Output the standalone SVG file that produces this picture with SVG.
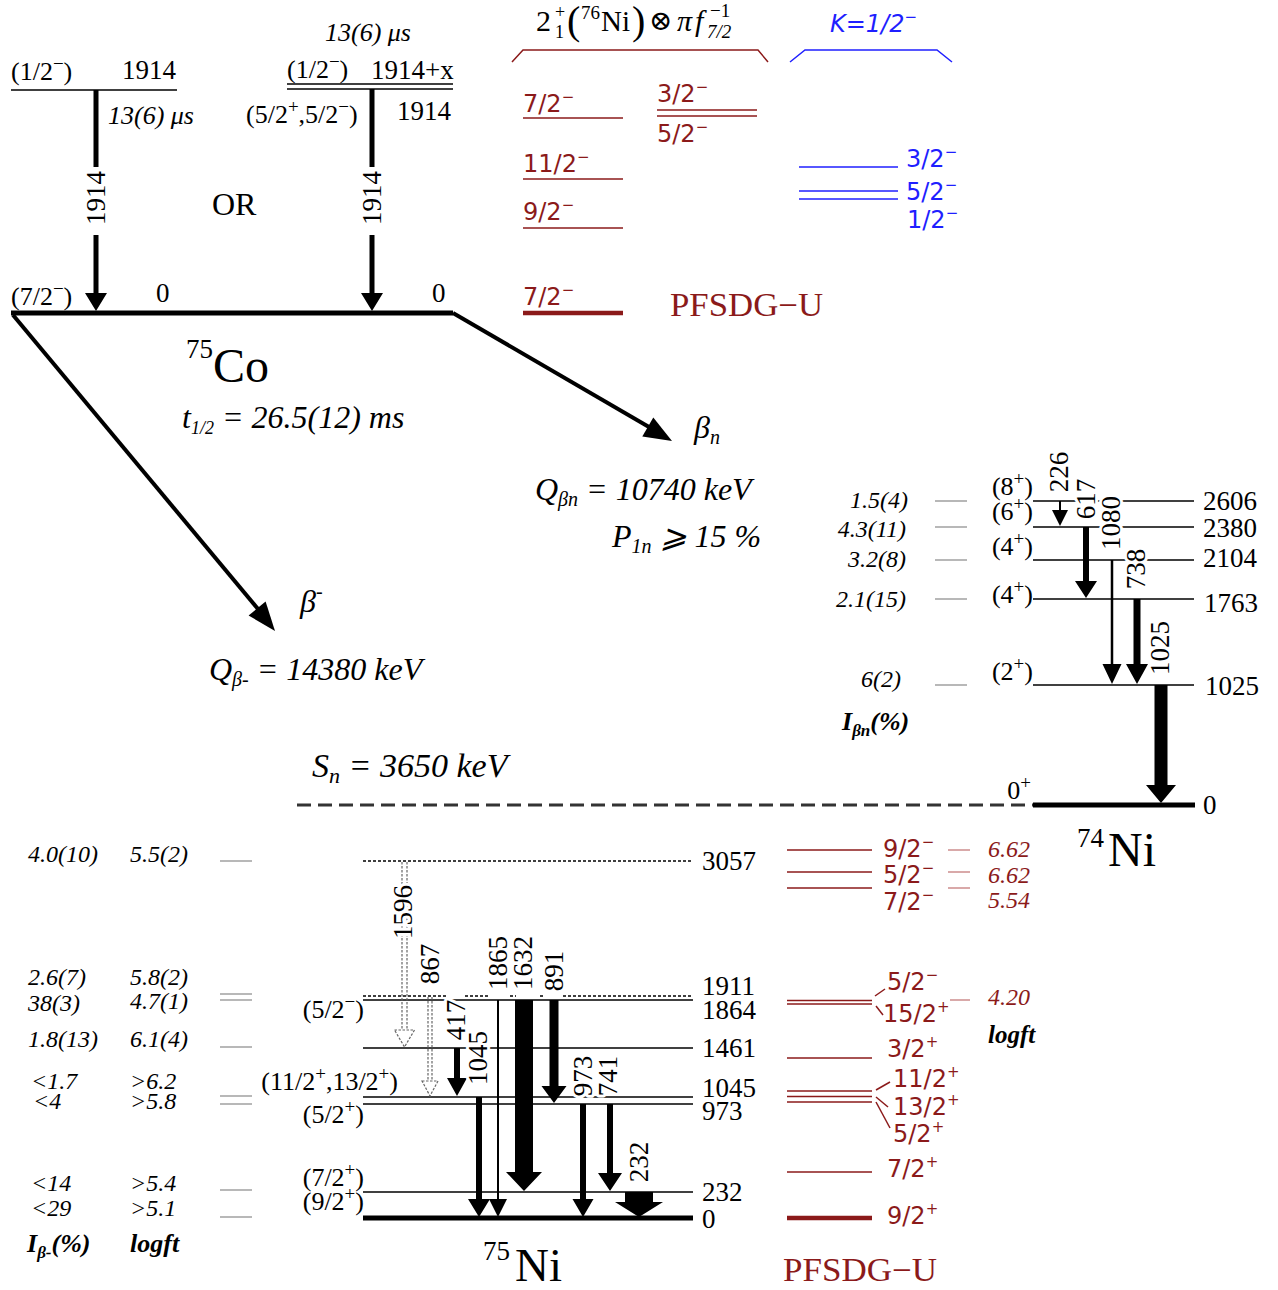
<svg xmlns="http://www.w3.org/2000/svg" width="1278" height="1290" viewBox="0 0 1278 1290">
<style>
text{font-family:"Liberation Serif","DejaVu Serif",serif;fill:#000}
.it{font-style:italic}
.bi{font-style:italic;font-weight:bold}
.e{font-size:27px}
.sp{font-size:26px}
.gl{font-size:27px}
.u{font-size:19px}
.halo{paint-order:stroke;stroke:#fff;stroke-width:6px;stroke-linejoin:round}
.lv{stroke:#000;stroke-width:1.6;fill:none}
.gr{stroke:#888;stroke-width:1.2}
.rs{font-family:"DejaVu Sans",sans-serif;font-size:24px;fill:#8b1a1a}
.ru{font-size:15px}
.bs{font-family:"DejaVu Sans",sans-serif;font-size:24px;fill:#1f1fff}
.rl{stroke:#8b1a1a;stroke-width:1.5;fill:none}
.rlt{stroke:#8b1a1a;stroke-width:4.5;fill:none}
.rg{stroke:#c07070;stroke-width:1.2}
.bl{stroke:#1f1fff;stroke-width:1.5;fill:none}
.ri{font-style:italic;font-size:24px;fill:#8b1a1a}
.ar{fill:#000}
.hol{fill:#fff;stroke:#666;stroke-width:1.2;stroke-dasharray:2.5 1.5}
.hs{stroke:#666;stroke-width:1.2;stroke-dasharray:2.5 1.5}
.dot{stroke:#000;stroke-width:1.5;stroke-dasharray:3 2;fill:none}
.q{font-style:italic;font-size:32px}
.pf{font-size:33px;fill:#8b1a1a}
</style>

<!-- 75Co -->
<g id="co75-1914a">
 <line class="lv" x1="11" y1="90" x2="177" y2="90"/>
 <text class="sp" x="11" y="80">(1/2<tspan class="u" dy="-10">−</tspan><tspan dy="10">)</tspan></text>
 <text class="e" x="122" y="79">1914</text>
 <text class="it" font-size="26" x="108" y="124">13(6) μs</text>
</g>
<g id="co75-1914x">
 <line class="lv" x1="287" y1="84" x2="453" y2="84"/>
 <line class="lv" x1="287" y1="89" x2="453" y2="89"/>
 <text class="it" font-size="26" x="325" y="41">13(6) μs</text>
 <text class="sp" x="287" y="78">(1/2<tspan class="u" dy="-10">−</tspan><tspan dy="10">)</tspan></text>
 <text class="e" x="371" y="79">1914+x</text>
 <text class="sp" x="246" y="123">(5/2<tspan class="u" dy="-10">+</tspan><tspan dy="10">,5/2</tspan><tspan class="u" dy="-10">−</tspan><tspan dy="10">)</tspan></text>
 <text class="e" x="397" y="120">1914</text>
</g>
<g id="co75-or">
 <text font-size="32" x="212" y="215">OR</text>
</g>
<g id="co75-gs">
 <line x1="11" y1="313" x2="453" y2="313" stroke="#000" stroke-width="5"/>
 <text class="sp" x="11" y="305">(7/2<tspan class="u" dy="-10">−</tspan><tspan dy="10">)</tspan></text>
 <text class="e" x="156" y="302">0</text>
 <text class="e" x="432" y="302">0</text>
 <text font-size="27" x="186" y="358">75</text>
 <text font-size="48" x="213" y="382">Co</text>
 <text class="q" x="182" y="428">t<tspan font-size="18" dy="6">1/2</tspan><tspan dy="-6"> = 26.5(12) ms</tspan></text>
</g>
<g id="decay-labels">
 <text class="q" x="694" y="438">β<tspan font-size="20" dy="6">n</tspan></text>
 <text class="q" x="535" y="500">Q<tspan font-size="20" dy="6">βn</tspan><tspan dy="-6"> = 10740 keV</tspan></text>
 <text class="q" x="612" y="547">P<tspan font-size="20" dy="6">1n</tspan><tspan dy="-6"> ⩾ 15 %</tspan></text>
 <text class="q" x="300" y="612">β<tspan font-size="20" dy="-14">-</tspan></text>
 <text class="q" x="209" y="680">Q<tspan font-size="20" dy="6">β-</tspan><tspan dy="-6"> = 14380 keV</tspan></text>
 <text class="it" font-size="34" x="312" y="777">S<tspan font-size="22" dy="6">n</tspan><tspan dy="-6"> = 3650 keV</tspan></text>
</g>
<g id="sn-line">
 <line x1="297" y1="805" x2="1033" y2="805" stroke="#333" stroke-width="3" stroke-dasharray="14 7"/>
</g>

<!-- PFSDG-U 75Co (red) -->
<g id="pfsdg-co">
 <text font-size="30" x="536" y="31" fill="#8b1a1a">2</text>
 <text font-size="18" x="555" y="18" fill="#8b1a1a">+</text>
 <text font-size="18" x="555" y="38" fill="#8b1a1a">1</text>
 <text font-size="40" x="567" y="34" fill="#8b1a1a">(</text>
 <text font-size="19" x="581" y="19" fill="#8b1a1a">76</text>
 <text font-size="29" x="601" y="31" fill="#8b1a1a">Ni</text>
 <text font-size="40" x="632" y="34" fill="#8b1a1a">)</text>
 <text font-size="28" x="649" y="30" fill="#8b1a1a" font-family="DejaVu Serif,serif">⊗</text>
 <text class="it" font-size="30" x="677" y="31" fill="#8b1a1a">π</text>
 <text class="it" font-size="30" x="695" y="31" fill="#8b1a1a">f</text>
 <text font-size="19" x="710" y="17" fill="#8b1a1a">−1</text>
 <text class="it" font-size="19" x="707" y="38" fill="#8b1a1a">7/2</text>
 <polyline class="rl" points="512,62 523,50 758,50 768,62"/>
 <line class="rl" x1="523" y1="118" x2="623" y2="118"/>
 <text class="rs" x="523" y="112">7/2<tspan class="ru" dy="-10">−</tspan></text>
 <line class="rl" x1="523" y1="179" x2="623" y2="179"/>
 <text class="rs" x="523" y="172">11/2<tspan class="ru" dy="-10">−</tspan></text>
 <line class="rl" x1="523" y1="228" x2="623" y2="228"/>
 <text class="rs" x="523" y="220">9/2<tspan class="ru" dy="-10">−</tspan></text>
 <line class="rlt" x1="523" y1="313" x2="623" y2="313"/>
 <text class="rs" x="523" y="305">7/2<tspan class="ru" dy="-10">−</tspan></text>
 <line class="rl" x1="657" y1="110" x2="757" y2="110"/>
 <line class="rl" x1="657" y1="116" x2="757" y2="116"/>
 <text class="rs" x="657" y="102">3/2<tspan class="ru" dy="-10">−</tspan></text>
 <text class="rs" x="657" y="142">5/2<tspan class="ru" dy="-10">−</tspan></text>
 <text class="pf" x="670" y="316" textLength="153" lengthAdjust="spacingAndGlyphs">PFSDG−U</text>
</g>
<g id="kband">
 <text class="bs" font-style="italic" x="830" y="32">K=1/2<tspan class="ru" dy="-10">−</tspan></text>
 <polyline class="bl" points="790,62 805,50 937,50 952,62"/>
 <line class="bl" x1="799" y1="167" x2="898" y2="167"/>
 <line class="bl" x1="799" y1="191" x2="898" y2="191"/>
 <line class="bl" x1="799" y1="199" x2="898" y2="199"/>
 <text class="bs" x="906" y="167">3/2<tspan class="ru" dy="-10">−</tspan></text>
 <text class="bs" x="906" y="200">5/2<tspan class="ru" dy="-10">−</tspan></text>
 <text class="bs" x="907" y="228">1/2<tspan class="ru" dy="-10">−</tspan></text>
</g>

<!-- 74Ni -->
<g id="ni74-2606">
 <line class="lv" x1="1033" y1="501" x2="1194" y2="501"/>
 <text class="sp" x="1033" y="495" text-anchor="end">(8<tspan class="u" dy="-10">+</tspan><tspan dy="10">)</tspan></text>
 <text class="e" x="1203" y="510">2606</text>
 <line class="gr" x1="935" y1="501" x2="967" y2="501"/>
 <text class="it" font-size="24" x="908" y="508" text-anchor="end">1.5(4)</text>
</g>
<g id="ni74-2380">
 <line class="lv" x1="1033" y1="527" x2="1194" y2="527"/>
 <text class="sp" x="1033" y="520" text-anchor="end">(6<tspan class="u" dy="-10">+</tspan><tspan dy="10">)</tspan></text>
 <text class="e" x="1203" y="537">2380</text>
 <line class="gr" x1="935" y1="527" x2="967" y2="527"/>
 <text class="it" font-size="24" x="906" y="537" text-anchor="end">4.3(11)</text>
</g>
<g id="ni74-2104">
 <line class="lv" x1="1033" y1="560" x2="1194" y2="560"/>
 <text class="sp" x="1033" y="555" text-anchor="end">(4<tspan class="u" dy="-10">+</tspan><tspan dy="10">)</tspan></text>
 <text class="e" x="1203" y="567">2104</text>
 <line class="gr" x1="935" y1="560" x2="967" y2="560"/>
 <text class="it" font-size="24" x="906" y="567" text-anchor="end">3.2(8)</text>
</g>
<g id="ni74-1763">
 <line class="lv" x1="1033" y1="599" x2="1194" y2="599"/>
 <text class="sp" x="1033" y="603" text-anchor="end">(4<tspan class="u" dy="-10">+</tspan><tspan dy="10">)</tspan></text>
 <text class="e" x="1204" y="612">1763</text>
 <line class="gr" x1="935" y1="599" x2="967" y2="599"/>
 <text class="it" font-size="24" x="906" y="607" text-anchor="end">2.1(15)</text>
</g>
<g id="ni74-1025">
 <line class="lv" x1="1033" y1="685" x2="1194" y2="685"/>
 <text class="sp" x="1033" y="680" text-anchor="end">(2<tspan class="u" dy="-10">+</tspan><tspan dy="10">)</tspan></text>
 <text class="e" x="1205" y="695">1025</text>
 <line class="gr" x1="935" y1="685" x2="967" y2="685"/>
 <text class="it" font-size="24" x="901" y="687" text-anchor="end">6(2)</text>
</g>
<g id="ni74-0">
 <line x1="1033" y1="805" x2="1195" y2="805" stroke="#000" stroke-width="5"/>
 <text class="sp" x="1031" y="799" text-anchor="end">0<tspan class="u" dy="-10">+</tspan></text>
 <text class="e" x="1203" y="814">0</text>
 <text font-size="27" x="1077" y="847">74</text>
 <text font-size="48" x="1108" y="866">Ni</text>
 <text class="bi" font-size="26" x="842" y="730">I<tspan font-size="17" dy="6">βn</tspan><tspan dy="-6">(%)</tspan></text>
</g>

<!-- 75Ni -->
<g id="ni75-3057">
 <line class="dot" x1="363" y1="861" x2="693" y2="861"/>
 <text class="e" x="702" y="870">3057</text>
 <line class="gr" x1="220" y1="861" x2="252" y2="861"/>
 <text class="it" font-size="24" x="28" y="862">4.0(10)</text>
 <text class="it" font-size="24" x="130" y="862">5.5(2)</text>
</g>
<g id="ni75-1911">
 <path class="dot" d="M363 996 H447 M465 996 H488 M510 996 H516 M540 996 H545 M563 996 H693"/>
 <text class="e" x="702" y="995">1911</text>
 <line class="gr" x1="220" y1="994" x2="252" y2="994"/>
 <text class="it" font-size="24" x="28" y="985">2.6(7)</text>
 <text class="it" font-size="24" x="130" y="985">5.8(2)</text>
</g>
<g id="ni75-1864">
 <line class="lv" x1="363" y1="1000" x2="693" y2="1000"/>
 <text class="sp" x="364" y="1018" text-anchor="end">(5/2<tspan class="u" dy="-10">−</tspan><tspan dy="10">)</tspan></text>
 <text class="e" x="702" y="1019">1864</text>
 <line class="gr" x1="220" y1="1000" x2="252" y2="1000"/>
 <text class="it" font-size="24" x="28" y="1011">38(3)</text>
 <text class="it" font-size="24" x="130" y="1009">4.7(1)</text>
</g>
<g id="ni75-1461">
 <line class="lv" x1="363" y1="1048" x2="693" y2="1048"/>
 <text class="e" x="702" y="1057">1461</text>
 <line class="gr" x1="220" y1="1047" x2="252" y2="1047"/>
 <text class="it" font-size="24" x="28" y="1047">1.8(13)</text>
 <text class="it" font-size="24" x="130" y="1047">6.1(4)</text>
</g>
<g id="ni75-1045">
 <line class="lv" x1="363" y1="1097" x2="693" y2="1097"/>
 <text class="sp" x="398" y="1090" text-anchor="end">(11/2<tspan class="u" dy="-10">+</tspan><tspan dy="10">,13/2</tspan><tspan class="u" dy="-10">+</tspan><tspan dy="10">)</tspan></text>
 <text class="e" x="702" y="1097">1045</text>
 <line class="gr" x1="220" y1="1096" x2="252" y2="1096"/>
 <text class="it" font-size="24" x="31" y="1089">&lt;1.7</text>
 <text class="it" font-size="24" x="130" y="1089">&gt;6.2</text>
</g>
<g id="ni75-973">
 <line class="lv" x1="363" y1="1104" x2="693" y2="1104"/>
 <text class="sp" x="364" y="1123" text-anchor="end">(5/2<tspan class="u" dy="-10">+</tspan><tspan dy="10">)</tspan></text>
 <text class="e" x="702" y="1120">973</text>
 <line class="gr" x1="220" y1="1104" x2="252" y2="1104"/>
 <text class="it" font-size="24" x="33" y="1109">&lt;4</text>
 <text class="it" font-size="24" x="130" y="1109">&gt;5.8</text>
</g>
<g id="ni75-232">
 <line class="lv" x1="363" y1="1192" x2="693" y2="1192"/>
 <text class="sp" x="364" y="1186" text-anchor="end">(7/2<tspan class="u" dy="-10">+</tspan><tspan dy="10">)</tspan></text>
 <text class="e" x="702" y="1201">232</text>
 <line class="gr" x1="220" y1="1190" x2="252" y2="1190"/>
 <text class="it" font-size="24" x="31" y="1191">&lt;14</text>
 <text class="it" font-size="24" x="130" y="1191">&gt;5.4</text>
</g>
<g id="ni75-0">
 <line x1="363" y1="1218" x2="693" y2="1218" stroke="#000" stroke-width="5"/>
 <text class="sp" x="364" y="1210" text-anchor="end">(9/2<tspan class="u" dy="-10">+</tspan><tspan dy="10">)</tspan></text>
 <text class="e" x="702" y="1228">0</text>
 <line class="gr" x1="220" y1="1217" x2="252" y2="1217"/>
 <text class="it" font-size="24" x="31" y="1216">&lt;29</text>
 <text class="it" font-size="24" x="130" y="1216">&gt;5.1</text>
 <text class="bi" font-size="26" x="27" y="1252">I<tspan font-size="17" dy="6">β-</tspan><tspan dy="-6">(%)</tspan></text>
 <text class="bi" font-size="26" x="130" y="1252">logft</text>
 <text font-size="27" x="483" y="1260">75</text>
 <text font-size="47" x="515" y="1281">Ni</text>
</g>

<!-- PFSDG-U 75Ni (red) -->
<g id="pfsdg-ni">
 <line class="rl" x1="787" y1="850" x2="872" y2="850"/>
 <line class="rl" x1="787" y1="872" x2="872" y2="872"/>
 <line class="rl" x1="787" y1="888" x2="872" y2="888"/>
 <text class="rs" x="883" y="857">9/2<tspan class="ru" dy="-10">−</tspan></text>
 <text class="rs" x="883" y="883">5/2<tspan class="ru" dy="-10">−</tspan></text>
 <text class="rs" x="883" y="910">7/2<tspan class="ru" dy="-10">−</tspan></text>
 <line class="rg" x1="948" y1="850" x2="970" y2="850"/>
 <line class="rg" x1="948" y1="872" x2="970" y2="872"/>
 <line class="rg" x1="948" y1="888" x2="970" y2="888"/>
 <text class="ri" x="988" y="857">6.62</text>
 <text class="ri" x="988" y="883">6.62</text>
 <text class="ri" x="988" y="908">5.54</text>
 <line class="rl" x1="787" y1="1000.5" x2="872" y2="1000.5"/>
 <line class="rl" x1="787" y1="1004" x2="872" y2="1004"/>
 <line class="rl" x1="875" y1="996" x2="885" y2="989"/>
 <line class="rl" x1="876" y1="1006" x2="883" y2="1015"/>
 <text class="rs" x="887" y="990">5/2<tspan class="ru" dy="-10">−</tspan></text>
 <text class="rs" x="883" y="1022">15/2<tspan class="ru" dy="-10">+</tspan></text>
 <line class="rg" x1="950" y1="1000" x2="970" y2="1000"/>
 <text class="ri" x="988" y="1005">4.20</text>
 <text class="bi" font-size="25" x="988" y="1043" fill="#8b1a1a">logft</text>
 <line class="rl" x1="787" y1="1058" x2="872" y2="1058"/>
 <text class="rs" x="887" y="1057">3/2<tspan class="ru" dy="-10">+</tspan></text>
 <line class="rl" x1="787" y1="1091" x2="872" y2="1091"/>
 <line class="rl" x1="787" y1="1096.5" x2="872" y2="1096.5"/>
 <line class="rl" x1="787" y1="1102" x2="872" y2="1102"/>
 <line class="rl" x1="876" y1="1090" x2="890" y2="1082"/>
 <line class="rl" x1="876" y1="1097" x2="888" y2="1107"/>
 <line class="rl" x1="876" y1="1102" x2="890" y2="1128"/>
 <text class="rs" x="893" y="1087">11/2<tspan class="ru" dy="-10">+</tspan></text>
 <text class="rs" x="893" y="1115">13/2<tspan class="ru" dy="-10">+</tspan></text>
 <text class="rs" x="893" y="1142">5/2<tspan class="ru" dy="-10">+</tspan></text>
 <line class="rl" x1="787" y1="1172" x2="872" y2="1172"/>
 <text class="rs" x="887" y="1177">7/2<tspan class="ru" dy="-10">+</tspan></text>
 <line class="rlt" x1="787" y1="1218" x2="872" y2="1218"/>
 <text class="rs" x="887" y="1224">9/2<tspan class="ru" dy="-10">+</tspan></text>
 <text class="pf" x="783" y="1281" textLength="154" lengthAdjust="spacingAndGlyphs">PFSDG−U</text>
</g>

<!-- connectors -->
<g id="connectors">
 <path class="ar" d="M93.5 90 H98.5 V167 H93.5 Z M93.5 235 H98.5 V293 H107 L96 311 L85 293 H93.5 Z"/>
 <path class="ar" d="M369.5 89 H374.5 V167 H369.5 Z M369.5 235 H374.5 V293 H383 L372 311 L361 293 H369.5 Z"/>
 <text class="gl" x="105" y="198" text-anchor="middle" transform="rotate(-90 105 198)">1914</text>
 <text class="gl" x="381" y="198" text-anchor="middle" transform="rotate(-90 381 198)">1914</text>
 <line x1="13" y1="315" x2="258" y2="609" stroke="#000" stroke-width="4"/>
 <polygon class="ar" points="275,631 248.6,615.5 265.6,601.5"/>
 <line x1="453" y1="313" x2="649" y2="427" stroke="#000" stroke-width="4"/>
 <polygon class="ar" points="672,441 642.3,436.4 653.3,417.4"/>
 <path class="ar" d="M1059 501 H1061 V510 H1068 L1060 526 L1052 510 H1059 Z"/>
 <path class="ar" d="M1083 527 H1089 V581 H1097 L1086 598 L1075 581 H1083 Z"/>
 <path class="ar" d="M1110.75 560 H1113.25 V664 H1121.5 L1112 684 L1102.5 664 H1110.75 Z"/>
 <path class="ar" d="M1133.5 599 H1140.5 V664 H1148 L1137 684 L1126 664 H1133.5 Z"/>
 <path class="ar" d="M1154.5 685 H1167.5 V785 H1176 L1161 803 L1146 785 H1154.5 Z"/>
 <text class="gl halo" x="1068" y="472" text-anchor="middle" transform="rotate(-90 1068 472)">226</text>
 <text class="gl halo" x="1095" y="499" text-anchor="middle" transform="rotate(-90 1095 499)">617</text>
 <text class="gl halo" x="1120" y="523" text-anchor="middle" transform="rotate(-90 1120 523)">1080</text>
 <text class="gl halo" x="1145" y="569" text-anchor="middle" transform="rotate(-90 1145 569)">738</text>
 <text class="gl halo" x="1169" y="648" text-anchor="middle" transform="rotate(-90 1169 648)">1025</text>
 <line class="hs" x1="402" y1="862" x2="402" y2="1030"/>
 <line class="hs" x1="407" y1="862" x2="407" y2="1030"/>
 <polygon class="hol" points="394.5,1030 414.5,1030 404.5,1047"/>
 <line class="hs" x1="428" y1="997" x2="428" y2="1081"/>
 <line class="hs" x1="432" y1="997" x2="432" y2="1081"/>
 <polygon class="hol" points="422,1081 438,1081 430,1096"/>
 <path class="ar" d="M454 1048 H460 V1078 H467 L457 1096 L447 1078 H454 Z"/>
 <path class="ar" d="M476 1097 H482 V1199 H490 L479 1217 L468 1199 H476 Z"/>
 <path class="ar" d="M497 1000 H499 V1199 H507 L498 1217 L489 1199 H497 Z"/>
 <path class="ar" d="M515 1000 H533 V1172 H542 L524 1191 L506 1172 H515 Z"/>
 <path class="ar" d="M549.5 1000 H558.5 V1086 H566.5 L554 1103 L541.5 1086 H549.5 Z"/>
 <path class="ar" d="M580 1104 H586 V1199 H593.5 L583 1217 L572.5 1199 H580 Z"/>
 <path class="ar" d="M607 1104 H613 V1173 H622 L610 1191 L598 1173 H607 Z"/>
 <path class="ar" d="M625 1192 H653 V1202 H663 L639 1217 L615 1202 H625 Z"/>
 <text class="gl halo" x="412" y="912" text-anchor="middle" transform="rotate(-90 412 912)">1596</text>
 <text class="gl halo" x="439" y="964" text-anchor="middle" transform="rotate(-90 439 964)">867</text>
 <text class="gl halo" x="465" y="1020" text-anchor="middle" transform="rotate(-90 465 1020)">417</text>
 <text class="gl halo" x="487" y="1058" text-anchor="middle" transform="rotate(-90 487 1058)">1045</text>
 <text class="gl halo" x="507" y="963" text-anchor="middle" transform="rotate(-90 507 963)">1865</text>
 <text class="gl halo" x="532" y="963" text-anchor="middle" transform="rotate(-90 532 963)">1632</text>
 <text class="gl halo" x="563" y="971" text-anchor="middle" transform="rotate(-90 563 971)">891</text>
 <text class="gl halo" x="592" y="1076" text-anchor="middle" transform="rotate(-90 592 1076)">973</text>
 <text class="gl halo" x="617" y="1076" text-anchor="middle" transform="rotate(-90 617 1076)">741</text>
 <text class="gl halo" x="648" y="1162" text-anchor="middle" transform="rotate(-90 648 1162)">232</text>
</g>
</svg>
